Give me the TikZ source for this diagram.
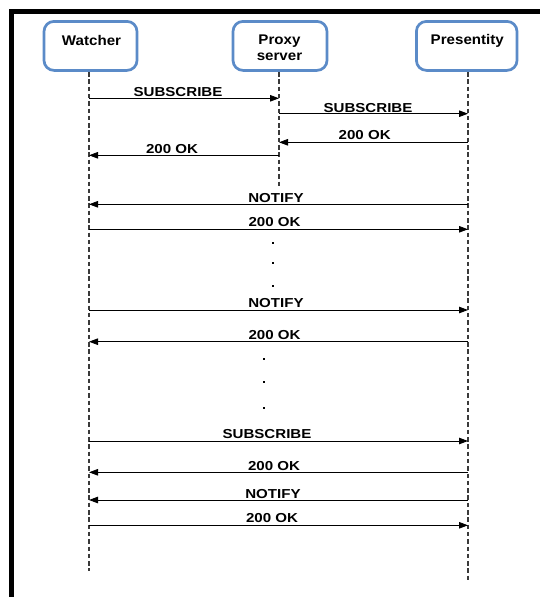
\documentclass[tikz,border=0pt]{standalone}
\usepackage{fontspec}
\usetikzlibrary{arrows.meta}
\newfontfamily\msgfont{Liberation Sans}[FakeStretch=1.16]
\newfontfamily\actorfont{Liberation Sans}[FakeStretch=1.08]
\definecolor{actorblue}{HTML}{5B8BC8}
\definecolor{lifegray}{HTML}{3A3A3A}

\begin{document}
\begin{tikzpicture}[x=1pt,y=-1pt,
  frame/.style={draw=black, line width=5pt, line join=miter},
  actor/.style={draw=actorblue, line width=2.7pt, rounded corners=10pt,
    fill=white, minimum height=49pt, inner sep=0pt},
  actortext/.style={font=\actorfont\bfseries\fontsize{14}{16}\selectfont,
    anchor=base, inner sep=0pt},
  lifeline/.style={draw=lifegray, line width=1.3pt,
    dash pattern=on 4.5pt off 2.8pt},
  msg/.style={draw=black, line width=0.9pt,
    -{Triangle[length=9pt,width=6.5pt]}},
  msgtext/.style={font=\msgfont\bfseries\fontsize{13}{15}\selectfont,
    anchor=base, inner sep=0pt},
  gap/.style={fill=black, draw=none, minimum size=2pt, inner sep=0pt}
]
\useasboundingbox (0,0) rectangle (540,597);
\fill[white] (0,0) rectangle (540,597);

% page frame (left and top edges)
\draw[frame] (11.9,597) -- (11.9,11.2) -- (540,11.2);

% participants
\node[actor, minimum width=93pt]    (w) at (90.5,45.9) {};
\node[actor, minimum width=94pt]    (p) at (280,45.9) {};
\node[actor, minimum width=100.6pt] (r) at (466.7,45.9) {};
\node[actortext] (wt)  at (91.5,45) {Watcher};
\node[actortext] (pt1) at (279.5,44.5) {Proxy};
\node[actortext] (pt2) at (279.5,60) {server};
\node[actortext] (rt)  at (467.3,44.5) {Presentity};

% lifelines
\coordinate (wl) at (89,72);
\coordinate (pl) at (279,72);
\coordinate (rl) at (468,72);
\coordinate (wend) at (89,570.7);
\coordinate (pend) at (279,186.7);
\coordinate (rend) at (468,581);
\draw[lifeline] (wl) -- (wend);
\draw[lifeline] (pl) -- (pend);
\draw[lifeline] (rl) -- (rend);

% initial subscription through the proxy
\draw[msg] (wl |- 0,98.3)  -- (pl |- 0,98.3);
\node[msgtext] (m1) at (178,96.7) {SUBSCRIBE};
\draw[msg] (pl |- 0,113.7) -- (rl |- 0,113.7);
\node[msgtext] (m2) at (368,112) {SUBSCRIBE};
\draw[msg] (rl |- 0,142.3) -- (pl |- 0,142.3);
\node[msgtext] (m3) at (364.7,139.3) {200 OK};
\draw[msg] (pl |- 0,155.3) -- (wl |- 0,155.3);
\node[msgtext] (m4) at (172,153.3) {200 OK};

% notifications
\draw[msg] (rl |- 0,204.3) -- (wl |- 0,204.3);
\node[msgtext] (m5) at (276,202.7) {NOTIFY};
\draw[msg] (wl |- 0,229.3) -- (rl |- 0,229.3);
\node[msgtext] (m6) at (274.5,226.7) {200 OK};

\node[gap] (g1) at (272.5,242.5) {};
\node[gap] (g2) at (273.3,263.3) {};
\node[gap] (g3) at (273.3,285.5) {};

\draw[msg] (wl |- 0,310) -- (rl |- 0,310);
\node[msgtext] (m7) at (276,307.7) {NOTIFY};
\draw[msg] (rl |- 0,341.7) -- (wl |- 0,341.7);
\node[msgtext] (m8) at (274.5,339) {200 OK};

\node[gap] (g4) at (264,359) {};
\node[gap] (g5) at (264,381.7) {};
\node[gap] (g6) at (264,407.7) {};

% refresh
\draw[msg] (wl |- 0,441) -- (rl |- 0,441);
\node[msgtext] (m9) at (267,438.7) {SUBSCRIBE};
\draw[msg] (rl |- 0,472.3) -- (wl |- 0,472.3);
\node[msgtext] (m10) at (274,470) {200 OK};
\draw[msg] (rl |- 0,500) -- (wl |- 0,500);
\node[msgtext] (m11) at (273,498.7) {NOTIFY};
\draw[msg] (wl |- 0,525.3) -- (rl |- 0,525.3);
\node[msgtext] (m12) at (272,522.7) {200 OK};
\end{tikzpicture}
\end{document}
